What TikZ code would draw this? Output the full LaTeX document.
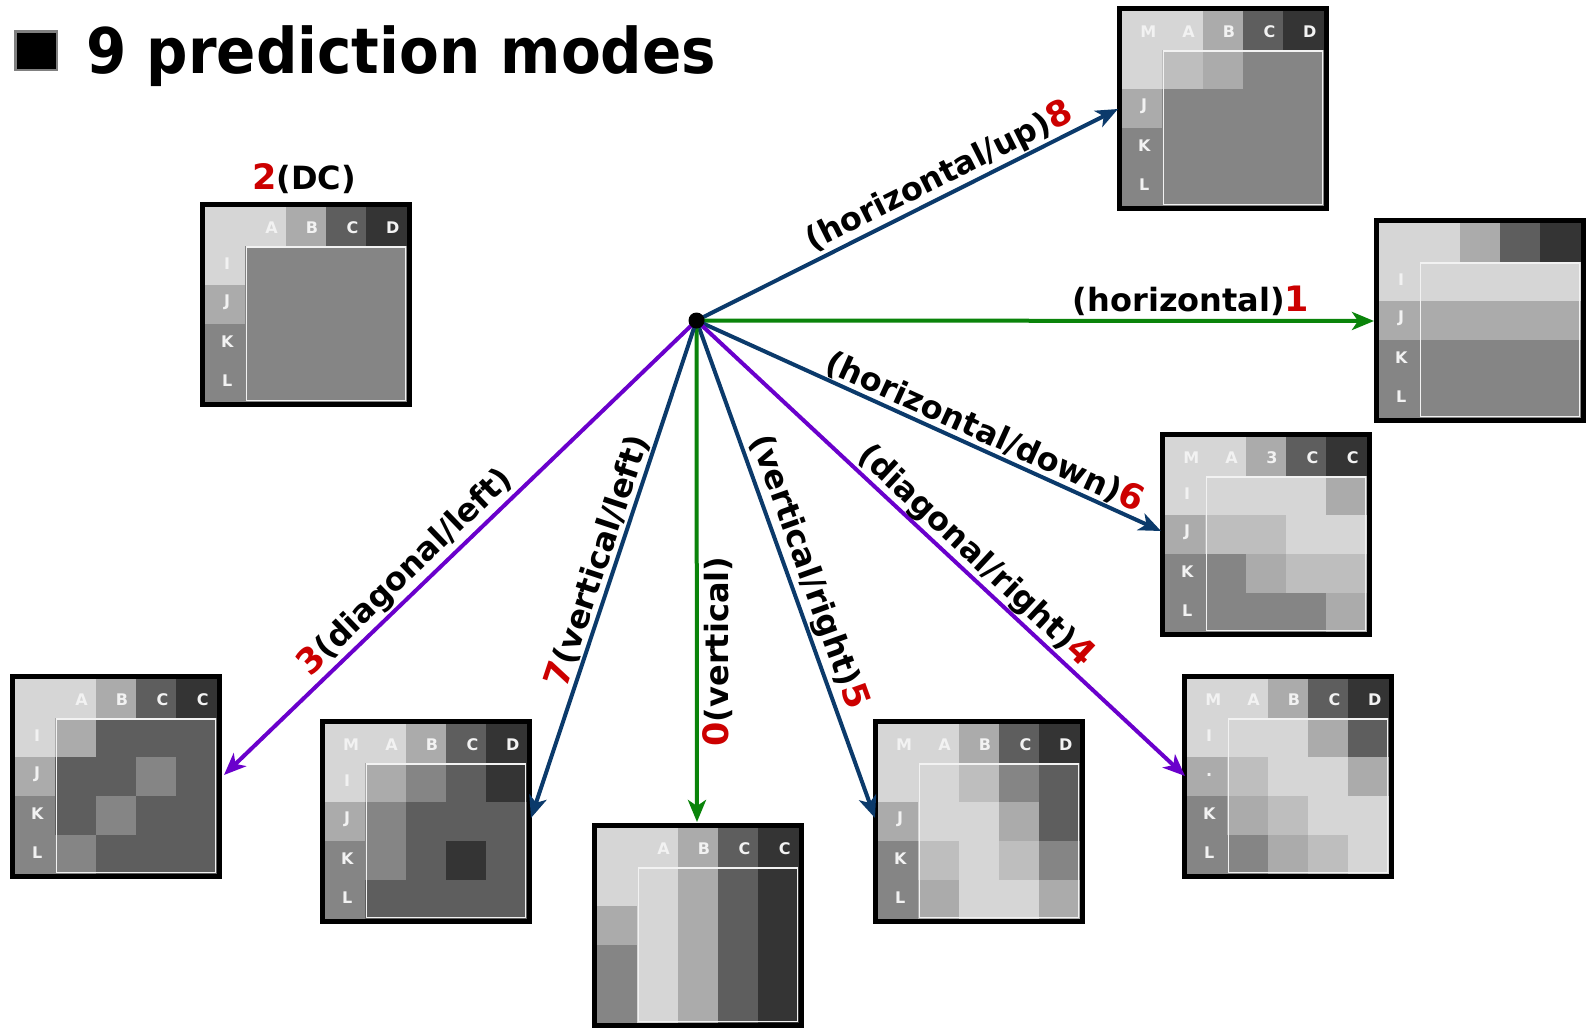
\documentclass[tikz,border=0pt]{standalone}
\usepackage{fontspec}
\setmainfont{DejaVu Sans}
\newfontfamily\titlefont[FakeStretch=0.92]{DejaVu Sans}
\usetikzlibrary{arrows.meta}
\definecolor{g1}{HTML}{D6D6D6}
\definecolor{g2}{HTML}{BEBEBE}
\definecolor{g3}{HTML}{ABABAB}
\definecolor{g4}{HTML}{858585}
\definecolor{g5}{HTML}{5E5E5E}
\definecolor{g6}{HTML}{343434}
\definecolor{navy}{HTML}{0B3A6B}
\definecolor{grn}{HTML}{0A840A}
\definecolor{purp}{HTML}{6A00CC}
\definecolor{redd}{HTML}{CC0000}
\definecolor{lettc}{HTML}{F2F2F2}
\newcommand{\cw}{40.4}
\newcommand{\ch}{39}
\newcommand{\dg}[1]{\textcolor{redd}{\fontsize{35}{35}\selectfont #1}}
\tikzset{
  cellfill/.style={fill=#1, draw=#1, line width=0.6},
  blklbl/.style={text=lettc, font=\fontsize{16}{16}\selectfont\bfseries, inner sep=0},
  blockframe/.style={draw=black, line width=5, inner sep=0, outer sep=0, anchor=north west},
  arr/.style={line width=4, -{Stealth[length=22, width=18, inset=6]}},
  lab/.style={font=\fontsize{32}{32}\selectfont\bfseries, text=black, inner sep=3},
  dotnode/.style={circle, fill=black, minimum size=16, inner sep=0}
}
\newcommand{\predblk}[6]{%
\begin{scope}[shift={(#1,#2)}]
  \foreach \q/\c in {0/g1,1/g1,2/g3,3/g5,4/g6}
    \path[cellfill=\c] ({\q*\cw},0) rectangle ++(\cw,\ch);
  \foreach \r/\c in {1/g1,2/g3,3/g4,4/g4}
    \path[cellfill=\c] (0,{\r*\ch}) rectangle ++(\cw,\ch);
  \foreach \c [count=\k from 0] in {#6} {
    \pgfmathtruncatemacro\blkr{floor(\k/4)}
    \pgfmathtruncatemacro\blkq{mod(\k,4)}
    \path[cellfill=\c] ({(\blkq+1)*\cw},{(\blkr+1)*\ch}) rectangle ++(\cw,\ch);
  }
  \draw[white!95!black, line width=1.6] ({\cw+1},{\ch+1}) rectangle ({5*\cw-1.5},{5*\ch-1.5});
  \foreach \t [count=\k from 0] in {#4}
    \node[blklbl] at ({\k*\cw+\cw/2+6},{\ch/2+1}) {\t};
  \foreach \t [count=\k from 1] in {#5}
    \node[blklbl] at ({\cw/2+2},{\k*\ch+\ch/2-2}) {\t};
  \node[blockframe, minimum width={5*\cw+5}, minimum height={5*\ch+5}] (#3) at (-2.5,-2.5) {};
\end{scope}}
\begin{document}
\begin{tikzpicture}[x=1pt,y=-1pt]
\useasboundingbox (0,0) rectangle (1588,1028);
\fill[white] (0,0) rectangle (1588,1028);
% title
\path[fill=black, draw=gray, line width=2.5] (15.5,31.5) rectangle (57,70);
\node[anchor=base west, inner sep=0, font=\titlefont\bfseries\fontsize{63}{63}\selectfont] (title) at (86,73) {9 prediction modes};
% blocks
\predblk{1122}{11}{b8}{M,A,B,C,D}{{},J,K,L}{g2,g3,g4,g4,g4,g4,g4,g4,g4,g4,g4,g4,g4,g4,g4,g4}
\predblk{1379}{223}{b1}{{},{},{},{},{}}{I,J,K,L}{g1,g1,g1,g1,g3,g3,g3,g3,g4,g4,g4,g4,g4,g4,g4,g4}
\predblk{205}{207}{b2}{{},A,B,C,D}{I,J,K,L}{g4,g4,g4,g4,g4,g4,g4,g4,g4,g4,g4,g4,g4,g4,g4,g4}
\predblk{1165}{437}{b6}{M,A,3,C,C}{I,J,K,L}{g1,g1,g1,g3,g2,g2,g1,g1,g4,g3,g2,g2,g4,g4,g4,g3}
\predblk{15}{679}{b3}{{},A,B,C,C}{I,J,K,L}{g3,g5,g5,g5,g5,g5,g4,g5,g5,g4,g5,g5,g4,g5,g5,g5}
\predblk{325}{724}{b7}{M,A,B,C,D}{I,J,K,L}{g3,g4,g5,g6,g4,g5,g5,g5,g4,g5,g6,g5,g5,g5,g5,g5}
\predblk{597}{828}{b0}{{},A,B,C,C}{{},{},{},{}}{g1,g3,g5,g6,g1,g3,g5,g6,g1,g3,g5,g6,g1,g3,g5,g6}
\predblk{878}{724}{b5}{M,A,B,C,D}{{},J,K,L}{g1,g2,g4,g5,g1,g1,g3,g5,g2,g1,g2,g4,g3,g1,g1,g3}
\predblk{1187}{679}{b4}{M,A,B,C,D}{I,.,K,L}{g1,g1,g3,g5,g2,g1,g1,g3,g3,g2,g1,g1,g4,g3,g2,g1}
\node[lab] (l2) at (304,179) {\dg{2}(DC)};
% connectors
\coordinate (c) at (696.5,320.5);
\coordinate (t8) at (1118,109);
\coordinate (t1) at (1374,321);
\coordinate (t6) at (1161,531);
\coordinate (t4) at (1185,776);
\coordinate (t5) at (875,818);
\coordinate (t0) at (697,822);
\coordinate (t7) at (531,818);
\coordinate (t3) at (224,775);
\draw[arr, navy] (c) -- (t8) node[lab, pos=0.597, sloped, above, inner sep=1] {(horizontal/up)\dg{8}};
\draw[arr, grn] (c) -- (t1) node[lab, pos=0.73, above] {(horizontal)\dg{1}};
\draw[arr, navy] (c) -- (t6) node[lab, pos=0.605, sloped, above, inner sep=1] {(horizontal/down)\dg{6}};
\draw[arr, purp] (c) -- (t4) node[lab, pos=0.546, sloped, above, inner sep=0] {(diagonal/right)\dg{4}};
\draw[arr, navy] (c) -- (t5) node[lab, pos=0.52, sloped, above, inner sep=2] {(vertical/right)\dg{5}};
\draw[arr, grn] (c) -- (t0) node[lab, pos=0.66, rotate=90, anchor=north, inner sep=4] {\dg{0}(vertical)};
\draw[arr, navy] (c) -- (t7) node[lab, pos=0.495, sloped, above, inner sep=1] {\dg{7}(vertical/left)};
\draw[arr, purp] (c) -- (t3) node[lab, pos=0.586, sloped, above, inner sep=2] {\dg{3}(diagonal/left)};
\node[dotnode] (cdot) at (c) {};
\end{tikzpicture}
\end{document}
